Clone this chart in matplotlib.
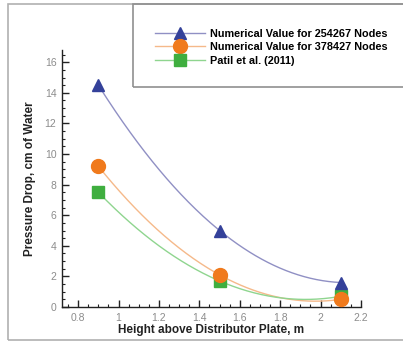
import matplotlib.pyplot as plt
from matplotlib.patches import Rectangle
from matplotlib.ticker import MultipleLocator
import numpy as np

plt.rcParams['font.family'] = ['Liberation Sans', 'DejaVu Sans']

# heights above distributor plate (m) and pressure drop (cm of water)
height = [0.9, 1.5, 2.1]
nodes_254267 = [14.5, 5.0, 1.6]
nodes_378427 = [9.2, 2.1, 0.5]
patil_2011 = [7.5, 1.7, 0.7]

labels = ['Numerical Value for 254267 Nodes',
          'Numerical Value for 378427 Nodes',
          'Patil et al. (2011)']

fig = plt.figure(figsize=(4.03, 3.44), dpi=100)
W, H = 403, 344

# outer frame and legend box
fig.patches.append(Rectangle((8 / W, 1 - 340 / H), 1.0, (340 - 4) / H,
                             transform=fig.transFigure, fill=False,
                             edgecolor='#b0b0b0', lw=1.2))
fig.patches.append(Rectangle((133 / W, 1 - 87 / H), 1.0, (87 - 4) / H,
                             transform=fig.transFigure, fill=False,
                             edgecolor='#909090', lw=1.2))

ax = fig.add_axes([62 / W, 1 - 307 / H, (361 - 62) / W, (307 - 50) / H])

# (values, marker, marker colour, line colour, marker size, zorder)
series = [
    (nodes_254267, '^', '#34419a', '#9090c4', 9, 5),
    (nodes_378427, 'o', '#f07a1c', '#f5b98a', 10, 4),
    (patil_2011, 's', '#3fae3f', '#8fd58f', 8, 3),
]

xs = np.linspace(height[0], height[-1], 200)
handles = []
for ys, mk, mc, lc, ms, z in series:
    coef = np.polyfit(height, ys, 2)
    ax.plot(xs, np.polyval(coef, xs), color=lc, lw=1.0, zorder=2)
    ax.plot(height, ys, ls='none', marker=mk, color=mc, ms=ms, zorder=z)
    h, = ax.plot([], [], color=lc, lw=1.0, marker=mk, mfc=mc, mec=mc, ms=ms)
    handles.append(h)

ax.set_xlim(0.72, 2.2)
ax.set_ylim(0, 16.8)
ax.xaxis.set_minor_locator(MultipleLocator(0.05))
ax.yaxis.set_major_locator(MultipleLocator(2))
ax.yaxis.set_minor_locator(MultipleLocator(0.5))
ax.set_xticks([0.8, 1.0, 1.2, 1.4, 1.6, 1.8, 2.0, 2.2])
ax.set_xticklabels(['0.8', '1', '1.2', '1.4', '1.6', '1.8', '2', '2.2'])

for s in ['top', 'right']:
    ax.spines[s].set_visible(False)
for s in ['left', 'bottom']:
    ax.spines[s].set_color('#222222')
    ax.spines[s].set_linewidth(1.0)
ax.tick_params(which='major', direction='in', length=5, width=1.0,
               color='#222222', labelsize=7.5, labelcolor='#8c8c8c', pad=4)
ax.tick_params(which='minor', direction='in', length=2.5, width=0.8,
               color='#222222')
ax.patch.set_alpha(0)

ax.set_xlabel('Height above Distributor Plate, m', fontsize=8.5,
              fontweight='bold', color='#222222', labelpad=1)
ax.set_ylabel('Pressure Drop, cm of Water', fontsize=8.5,
              fontweight='bold', color='#222222', labelpad=6)

fig.legend(handles, labels, loc='upper left',
           bbox_to_anchor=(155 / W, 1 - 29 / H), frameon=False,
           prop={'weight': 'bold', 'size': 7.8},
           handlelength=4.6, handletextpad=0.5, labelspacing=0.3,
           borderaxespad=0, borderpad=0)

fig.savefig('out.png', dpi=100)
